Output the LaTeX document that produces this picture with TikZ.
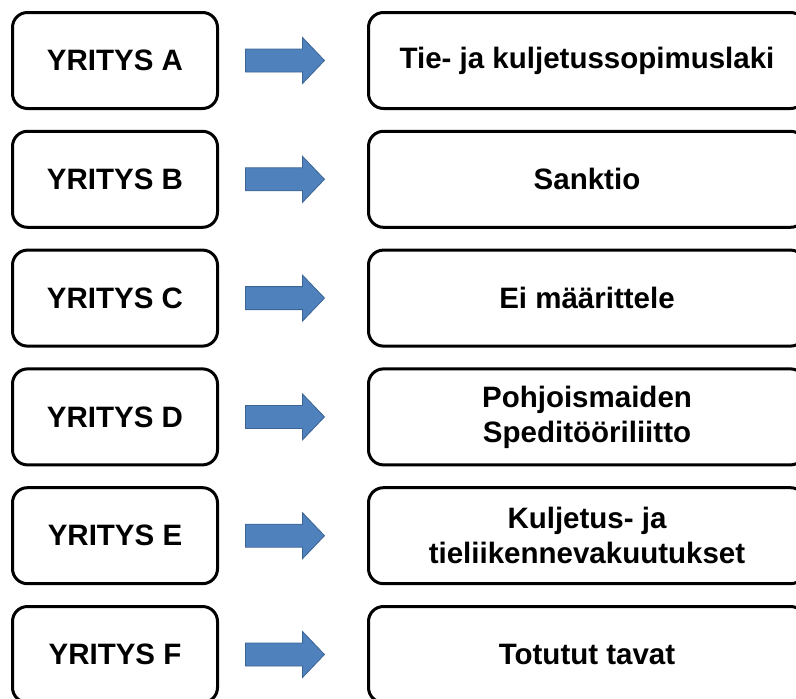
\documentclass[tikz,border=0pt]{standalone}
\usepackage{fontspec}
\setmainfont{Liberation Sans}
\usetikzlibrary{calc}
\definecolor{arrowblue}{HTML}{4F81BD}
\definecolor{arrowedge}{HTML}{3C6494}
\begin{document}
\begin{tikzpicture}[x=1pt,y=-1pt,
  box/.style={draw=black, line width=3pt, rounded corners=15pt, fill=white,
    inner sep=0pt, align=center, font=\fontsize{29.5}{35}\selectfont\bfseries},
  leftbox/.style={box, minimum width=205pt, minimum height=96pt},
  rightbox/.style={box, minimum width=437pt, minimum height=96pt},
  blockarrow/.style={fill=arrowblue, draw=arrowedge, line width=0.8pt, line join=miter}]
\useasboundingbox (0,0) rectangle (796,699);
\clip (0,0) rectangle (796,699);
\foreach \i/\k/\txt in {
  0/A/{Tie- ja kuljetussopimuslaki},
  1/B/{Sanktio},
  2/C/{Ei määrittele},
  3/D/{Pohjoismaiden\\Speditööriliitto},
  4/E/{Kuljetus- ja\\tieliikennevakuutukset},
  5/F/{Totutut tavat}} {
  \pgfmathsetmacro{\yy}{60.5+118.8*\i}
  \node[leftbox]  (l\k) at (115,\yy) {YRITYS \k};
  \node[rightbox] (r\k) at (587,\yy) {\txt};
  % block arrow between the two boxes of a row
  \draw[blockarrow] ($(l\k.east)+(26.5,-11.5)$) -- ++(57,0) -- ++(0,-11.5)
    -- ++(22,23) -- ++(-22,23) -- ++(0,-11.5) -- ++(-57,0) -- cycle;
}
\end{tikzpicture}
\end{document}
